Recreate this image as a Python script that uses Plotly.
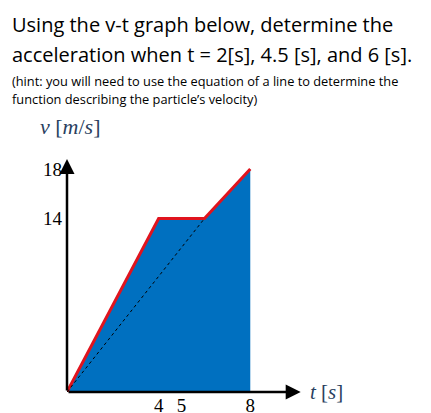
import plotly.graph_objects as go

t_pts = [0, 4, 6, 8]
v_pts = [0, 14, 14, 18]
dash_t = [0, 6]
dash_v = [0, 14]
x_ticks = [4, 5, 8]
y_ticks = [14, 18]

W, H = 431, 413
fig = go.Figure()
fig.add_trace(go.Scatter(x=t_pts + [8], y=v_pts + [0], fill="toself", fillcolor="#0070C0",
                         line=dict(width=0), mode="lines", hoverinfo="skip"))
fig.add_trace(go.Scatter(x=t_pts, y=v_pts, mode="lines", line=dict(color="#E0141E", width=3)))
fig.add_trace(go.Scatter(x=dash_t, y=dash_v, mode="lines", line=dict(color="black", width=1, dash="dot")))

serif = dict(family="Liberation Serif, DejaVu Serif", size=19, color="black")
fig.update_layout(
    width=W, height=H, margin=dict(l=0, r=0, t=0, b=0), showlegend=False,
    plot_bgcolor="white", paper_bgcolor="white",
    xaxis=dict(domain=[59/W, 300/W], range=[0, 10.52], showgrid=False, zeroline=False, automargin=False,
               tickvals=x_ticks, ticktext=[str(v) for v in x_ticks], tickfont=serif, ticks="", showline=False,
               ticklabelstandoff=0),
    yaxis=dict(domain=[(H-384)/H, 1-130/H], range=[0, 20.5], showgrid=False, zeroline=False, automargin=False,
               tickvals=y_ticks, ticktext=[str(v) for v in y_ticks], tickfont=serif, ticks="", showline=False,
               ticklabelstandoff=4),
)
fig.add_annotation(x=10.2, y=0, ax=0, ay=0, xref="x", yref="y", axref="x", ayref="y",
                   showarrow=True, arrowhead=2, arrowsize=1.2, arrowwidth=2.5, arrowcolor="black", text="")
fig.add_annotation(x=0, y=18.8, ax=0, ay=0, xref="x", yref="y", axref="x", ayref="y",
                   showarrow=True, arrowhead=2, arrowsize=1.2, arrowwidth=2.5, arrowcolor="black", text="")
fig.add_annotation(x=10.5, y=0, xref="x", yref="y", text="<i>t</i> [<i>s</i>]", showarrow=False,
                   xanchor="left", yanchor="middle", font=dict(family="Liberation Serif, DejaVu Serif", size=21))
fig.add_annotation(x=30/W, y=1-118/H, xref="paper", yref="paper", text="<i>v</i> [<i>m</i>/<i>s</i>]",
                   showarrow=False, xanchor="left", yanchor="middle", font=dict(family="Liberation Serif, DejaVu Serif", size=22))
sans = "Open Sans, Noto Sans, sans-serif"
fig.add_annotation(x=2/W, y=1-17/H, xref="paper", yref="paper", text="Using the v-t graph below, determine the",
                   showarrow=False, xanchor="left", yanchor="middle", font=dict(family=sans, size=20, color="black"))
fig.add_annotation(x=2/W, y=1-46/H, xref="paper", yref="paper", text="acceleration when t = 2[s], 4.5 [s], and 6 [s].",
                   showarrow=False, xanchor="left", yanchor="middle", font=dict(family=sans, size=20, color="black"))
fig.add_annotation(x=2/W, y=1-73/H, xref="paper", yref="paper", text="(hint: you will need to use the equation of a line to determine the",
                   showarrow=False, xanchor="left", yanchor="middle", font=dict(family=sans, size=12.8, color="black"))
fig.add_annotation(x=2/W, y=1-91/H, xref="paper", yref="paper", text="function describing the particle’s velocity)",
                   showarrow=False, xanchor="left", yanchor="middle", font=dict(family=sans, size=12.8, color="black"))
fig.write_html("out.html")
